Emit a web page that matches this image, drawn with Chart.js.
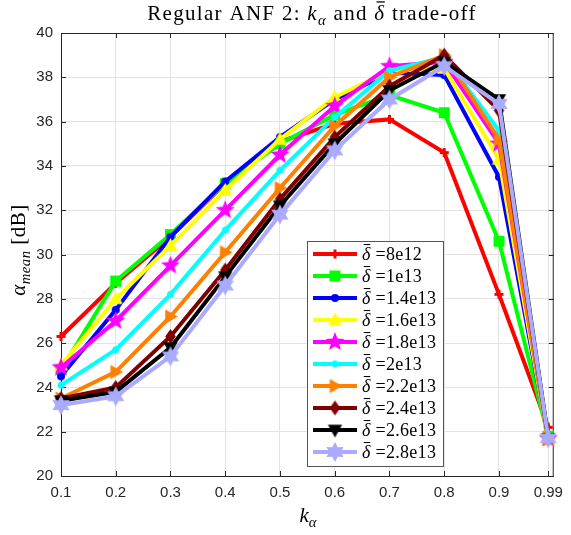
<!DOCTYPE html>
<html>
<head>
<meta charset="utf-8">
<script src="https://cdn.jsdelivr.net/npm/chart.js@4.4.1/dist/chart.umd.min.js"></script>
<style>
  html, body { margin: 0; padding: 0; background: #fff; }
  #wrap { width: 571px; height: 535px; position: relative; }
</style>
</head>
<body>
<div id="wrap"><canvas id="anfChart"></canvas></div>
<script>
// k_alpha values on the x axis
const kAlpha = [0.1, 0.2, 0.3, 0.4, 0.5, 0.6, 0.7, 0.8, 0.9, 0.99];
const xTickLabels = ['0.1', '0.2', '0.3', '0.4', '0.5', '0.6', '0.7', '0.8', '0.9', '0.99'];

// alpha_mean [dB] per delta-bar value
const delta8e12   = [26.3, 28.7, 30.8, 33.2, 35.1, 35.9, 36.1, 34.6, 28.2, 22.2];
const delta1e13   = [24.8, 28.8, 30.9, 33.2, 35.0, 36.3, 37.2, 36.4, 30.6, 21.8];
const delta1_4e13 = [24.5, 27.5, 30.8, 33.3, 35.3, 37.0, 38.2, 38.1, 33.5, 21.7];
const delta1_6e13 = [25.0, 28.0, 30.4, 32.9, 35.2, 37.1, 38.3, 38.4, 34.3, 21.6];
const delta1_8e13 = [24.9, 27.0, 29.5, 32.0, 34.5, 36.7, 38.5, 38.7, 35.0, 21.7];
const delta2e13   = [24.1, 25.7, 28.2, 31.1, 33.8, 36.2, 38.3, 38.9, 35.6, 21.7];
const delta2_2e13 = [23.5, 24.7, 27.2, 30.1, 33.0, 35.8, 38.0, 39.0, 35.2, 21.7];
const delta2_4e13 = [23.5, 24.0, 26.3, 29.3, 32.5, 35.3, 37.6, 39.0, 36.5, 21.7];
const delta2_6e13 = [23.4, 23.8, 25.8, 29.0, 32.2, 35.0, 37.4, 38.7, 37.0, 21.7];
const delta2_8e13 = [23.2, 23.6, 25.4, 28.6, 31.8, 34.7, 37.0, 38.5, 36.8, 21.7];

const legendLabels = ['8e12', '1e13', '1.4e13', '1.6e13', '1.8e13', '2e13', '2.2e13', '2.4e13', '2.6e13', '2.8e13'];

const SERIF = '"Liberation Serif", "DejaVu Serif", serif';
const SANS = '"Liberation Sans", Arial, sans-serif';

// marker images, so the chart and the legend use the same shapes
function makeMarker(kind, r, color) {
  const pad = 2;
  const c = document.createElement('canvas');
  c.width = c.height = Math.ceil(2 * r + 2 * pad);
  const g = c.getContext('2d');
  const cx = c.width / 2, cy = c.height / 2;
  g.fillStyle = color;
  g.strokeStyle = color;
  g.beginPath();
  const poly = (pts) => { pts.forEach(([x, y], i) => i ? g.lineTo(cx + x, cy + y) : g.moveTo(cx + x, cy + y)); g.closePath(); g.fill(); };
  const star = (n, inner) => {
    const pts = [];
    for (let i = 0; i < 2 * n; i++) {
      const a = -Math.PI / 2 + i * Math.PI / n;
      const rr = i % 2 ? r * inner : r;
      pts.push([rr * Math.cos(a), rr * Math.sin(a)]);
    }
    poly(pts);
  };
  if (kind === 'dot') { g.arc(cx, cy, r, 0, Math.PI * 2); g.fill(); }
  else if (kind === 'plus') {
    g.lineWidth = 3;
    g.moveTo(cx - r, cy); g.lineTo(cx + r, cy); g.moveTo(cx, cy - r); g.lineTo(cx, cy + r); g.stroke();
  }
  else if (kind === 'square') { g.fillRect(cx - r, cy - r, 2 * r, 2 * r); }
  else if (kind === 'up') poly([[0, -r], [r * 0.95, r * 0.7], [-r * 0.95, r * 0.7]]);
  else if (kind === 'down') poly([[0, r], [r * 0.95, -r * 0.7], [-r * 0.95, -r * 0.7]]);
  else if (kind === 'right') poly([[r, 0], [-r * 0.7, -r * 0.95], [-r * 0.7, r * 0.95]]);
  else if (kind === 'diamond') poly([[0, -r], [r * 0.7, 0], [0, r], [-r * 0.7, 0]]);
  else if (kind === 'star5') star(5, 0.42);
  else if (kind === 'star6') star(6, 0.55);
  return c;
}

const seriesColors = ['#ff0000', '#00ff00', '#0000ff', '#ffff00', '#ff00ff', '#00ffff', '#ff8000', '#800000', '#000000', '#aaaaff'];
const markerKinds = ['plus', 'square', 'dot', 'up', 'star5', 'dot', 'right', 'diamond', 'down', 'star6'];
const markerSizes = [4.5, 5.5, 4, 7.5, 10, 3.5, 7.5, 7.5, 7.5, 10];
const seriesData = [delta8e12, delta1e13, delta1_4e13, delta1_6e13, delta1_8e13, delta2e13, delta2_2e13, delta2_4e13, delta2_6e13, delta2_8e13];

const markers = seriesColors.map((col, i) => makeMarker(markerKinds[i], markerSizes[i], col));

const datasets = seriesData.map((vals, i) => ({
  label: '\u03b4 =' + legendLabels[i],
  data: vals.map((v, j) => ({ x: kAlpha[j], y: v })),
  borderColor: seriesColors[i],
  backgroundColor: seriesColors[i],
  borderWidth: 4,
  pointStyle: markers[i],
  pointRadius: markerSizes[i],
  pointHoverRadius: markerSizes[i],
  tension: 0,
  clip: false,
  order: -i // later series on top, like MATLAB
}));

// draws a run of text pieces: {t, it, sub, bar}
function setFont(ctx, s, size, spacing) {
  const fs = s.sub ? size * 0.7 : size;
  ctx.font = (s.it ? 'italic ' : '') + fs + 'px ' + SERIF;
  ctx.letterSpacing = (spacing || 0) + 'px';
}
function richWidth(ctx, segs, size, spacing) {
  let w = 0;
  for (const s of segs) {
    setFont(ctx, s, size, spacing);
    w += ctx.measureText(s.t).width;
  }
  return w;
}
function drawRich(ctx, segs, x, y, size, spacing) {
  ctx.textBaseline = 'alphabetic';
  ctx.textAlign = 'left';
  for (const s of segs) {
    setFont(ctx, s, size, spacing);
    const yy = s.sub ? y + size * 0.25 : y;
    ctx.fillText(s.t, x, yy);
    const w = ctx.measureText(s.t).width;
    if (s.bar) {
      ctx.save();
      ctx.lineWidth = Math.max(1, size * 0.06);
      ctx.beginPath();
      ctx.moveTo(x + w * 0.2, y - size * 0.86);
      ctx.lineTo(x + w * 0.95, y - size * 0.86);
      ctx.strokeStyle = ctx.fillStyle;
      ctx.stroke();
      ctx.restore();
    }
    x += w;
  }
  ctx.letterSpacing = '0px';
}

const framePlugin = {
  id: 'frame',
  beforeDatasetsDraw(chart) {
    const { ctx, chartArea: a, scales } = chart;
    ctx.save();
    ctx.strokeStyle = '#262626';
    ctx.lineWidth = 1;
    ctx.strokeRect(a.left + 0.5, a.top + 0.5, a.right - a.left - 1, a.bottom - a.top);
    ctx.beginPath();
    const tl = 5;
    for (const v of kAlpha) {
      const px = Math.round(scales.x.getPixelForValue(v)) + 0.5;
      ctx.moveTo(px, a.bottom); ctx.lineTo(px, a.bottom - tl);
      ctx.moveTo(px, a.top); ctx.lineTo(px, a.top + tl);
    }
    for (let v = 20; v <= 40; v += 2) {
      const py = Math.round(scales.y.getPixelForValue(v)) + 0.5;
      ctx.moveTo(a.left, py); ctx.lineTo(a.left + tl, py);
      ctx.moveTo(a.right, py); ctx.lineTo(a.right - tl, py);
    }
    ctx.stroke();
    ctx.restore();
  },
  afterDraw(chart) {
    const { ctx, chartArea: a } = chart;
    ctx.save();
    ctx.fillStyle = '#000';
    ctx.strokeStyle = '#000';

    // title
    const tSize = 21;
    const title = [
      { t: 'Regular ANF 2: ' }, { t: 'k', it: true }, { t: '\u03b1', it: true, sub: true },
      { t: ' and ' }, { t: '\u03b4', it: true, bar: true }, { t: ' trade-off' }
    ];
    const tw = richWidth(ctx, title, tSize, 1.3);
    drawRich(ctx, title, 312 - tw / 2, 20, tSize, 1.3);

    // x axis title
    const xt = [{ t: 'k', it: true }, { t: '\u03b1', it: true, sub: true }];
    const xw = richWidth(ctx, xt, 21);
    drawRich(ctx, xt, 308 - xw / 2, 522, 21);

    // y axis title
    const yt = [{ t: '\u03b1', it: true }, { t: 'mean', it: true, sub: true }, { t: ' [dB]' }];
    const yw = richWidth(ctx, yt, 21, 0.5);
    ctx.save();
    ctx.translate(25, 250);
    ctx.rotate(-Math.PI / 2);
    drawRich(ctx, yt, -yw / 2, 0, 21, 0.5);
    ctx.restore();

    // legend box
    const lx = 307, ly = 241, lw = 136, lh = 225, rowH = 22, firstY = 254;
    ctx.fillStyle = '#fff';
    ctx.fillRect(lx, ly, lw, lh);
    ctx.strokeStyle = '#555';
    ctx.lineWidth = 1;
    ctx.strokeRect(lx + 0.5, ly + 0.5, lw, lh);
    seriesColors.forEach((col, i) => {
      const cy = firstY + i * rowH;
      ctx.strokeStyle = col;
      ctx.lineWidth = 4;
      ctx.beginPath();
      ctx.moveTo(lx + 6, cy); ctx.lineTo(lx + 50, cy);
      ctx.stroke();
      const m = markers[i];
      ctx.drawImage(m, lx + 28 - m.width / 2, cy - m.height / 2);
      ctx.fillStyle = '#000';
      drawRich(ctx, [{ t: '\u03b4', it: true, bar: true }, { t: ' =' + legendLabels[i] }], lx + 55, cy + 6, 18, 0.3);
    });
    ctx.restore();
  }
};

new Chart(document.getElementById('anfChart'), {
  type: 'line',
  data: { datasets },
  options: {
    responsive: true,
    maintainAspectRatio: false,
    animation: false,
    layout: { padding: { left: 0, right: 11, top: 33, bottom: 0 } },
    plugins: { legend: { display: false }, tooltip: { enabled: false } },
    scales: {
      x: {
        type: 'linear',
        min: 0.1,
        max: 1.0,
        afterBuildTicks: (scale) => { scale.ticks = kAlpha.map(v => ({ value: v })); },
        afterFit: (scale) => { scale.height = 59; },
        ticks: {
          autoSkip: false,
          maxRotation: 0,
          padding: 8,
          color: '#262626',
          font: { family: SANS, size: 15 },
          callback: (v, i) => xTickLabels[i]
        },
        grid: { color: '#e3e3e3', drawTicks: false },
        border: { display: false }
      },
      y: {
        min: 20,
        max: 40,
        afterFit: (scale) => { scale.width = 61; },
        ticks: {
          stepSize: 2,
          padding: 8,
          color: '#262626',
          font: { family: SANS, size: 15 }
        },
        grid: { color: '#e3e3e3', drawTicks: false },
        border: { display: false }
      }
    }
  },
  plugins: [framePlugin]
});
</script>
</body>
</html>
